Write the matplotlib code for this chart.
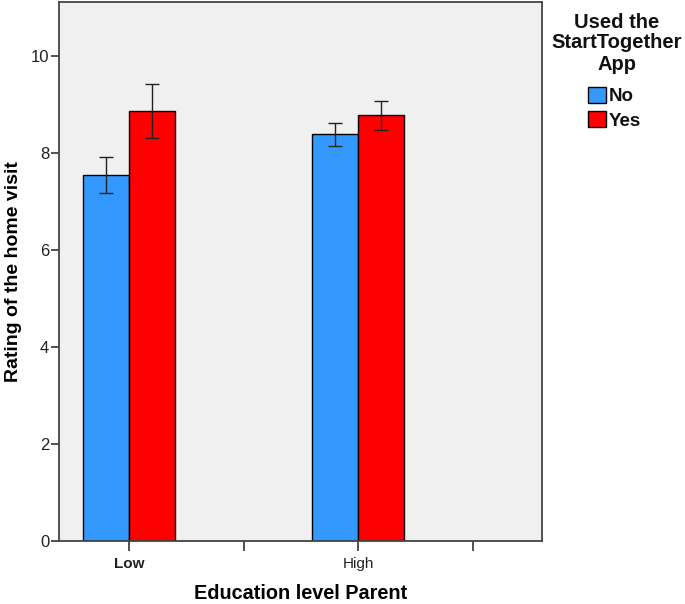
import matplotlib
matplotlib.use("Agg")
import matplotlib.pyplot as plt
import numpy as np

plt.rcParams['font.family'] = ['Liberation Sans', 'DejaVu Sans']

categories = ["Low", "High"]
groups = ["No", "Yes"]
means_no = [7.55, 8.39]
means_yes = [8.86, 8.78]
err_no_low = [7.18, 8.14]
err_no_high = [7.92, 8.62]
err_yes_low = [8.30, 8.47]
err_yes_high = [9.42, 9.06]
colors = ["#3399FF", "#FF0000"]
legend_title = ["Used the", "StartTogether", "App"]

fig = plt.figure(figsize=(6.85, 6.04), dpi=100)
ax = fig.add_axes([59/685, 1-541/604, (542-59)/685, (541-2)/604])
ax.set_facecolor("#F0F0F0")

x = np.arange(len(categories))
w = 0.2
m_no = np.array(means_no); m_yes = np.array(means_yes)
yerr_no = [m_no - np.array(err_no_low), np.array(err_no_high) - m_no]
yerr_yes = [m_yes - np.array(err_yes_low), np.array(err_yes_high) - m_yes]

ekw = dict(ecolor="#222222", elinewidth=1.0, capsize=5, capthick=1.0)
ax.bar(x - w/2, m_no, w, color=colors[0], edgecolor="black", linewidth=1.0,
       yerr=yerr_no, error_kw=ekw, label=groups[0], zorder=2)
ax.bar(x + w/2, m_yes, w, color=colors[1], edgecolor="black", linewidth=1.0,
       yerr=yerr_yes, error_kw=ekw, label=groups[1], zorder=2)

ax.set_xlim(-0.306, 1.803)
ax.set_ylim(0, 11.11)
ax.set_yticks([0, 2, 4, 6, 8, 10])
ax.set_xticks([0, 0.5, 1, 1.5])
ax.set_xticklabels(["Low", "", "High", ""])
ax.tick_params(axis='y', direction='out', length=6, width=1.2, labelsize=12, colors="#333333", labelcolor="#222222", pad=1)
ax.tick_params(axis='x', direction='out', length=7.5, width=1.2, labelsize=11, colors="#333333", labelcolor="#222222", pad=4)
ax.get_xticklabels()[0].set_fontweight('bold')

for s in ax.spines.values():
    s.set_color("#444444")
    s.set_linewidth(1.3)

ax.set_xlabel("Education level Parent", fontsize=14.3, fontweight='bold', labelpad=9.5)
ax.set_ylabel("Rating of the home visit", fontsize=14, fontweight='bold', labelpad=6)

title_y = [22, 43, 64]
for txt, yy in zip(legend_title, title_y):
    fig.text(617/685, 1-yy/604, txt, ha='center', va='center',
             fontsize=14.5, fontweight='bold', color="#111111")

leg = ax.legend(loc='upper left',
                bbox_to_anchor=(586/685, 1-85/604), bbox_transform=fig.transFigure,
                frameon=False, fontsize=13.5,
                handlelength=0.95, handleheight=0.95, handletextpad=0.15,
                labelspacing=0.3, borderaxespad=0, borderpad=0.1)
for t in leg.get_texts():
    t.set_fontweight('bold')
    t.set_color("#111111")

fig.savefig("out.png", dpi=100)
